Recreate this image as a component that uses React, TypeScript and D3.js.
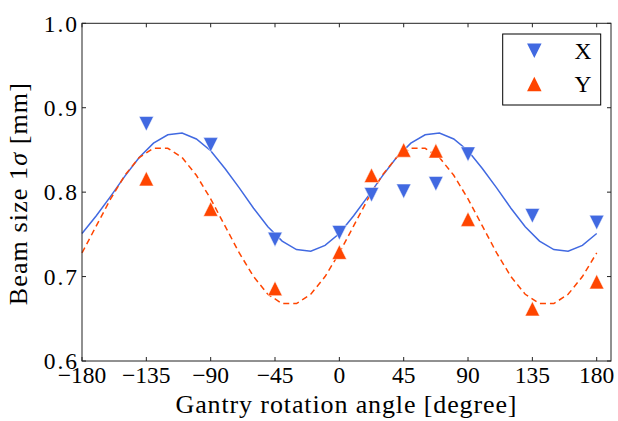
import * as d3 from "d3";

// measured angles (deg) and beam sizes (mm)
const angles = [-135, -90, -45, 0, 22.5, 45, 67.5, 90, 135, 180];
const sigmaX = [0.881, 0.856, 0.744, 0.752, 0.797, 0.801, 0.81, 0.845, 0.772, 0.764];
const sigmaY = [0.816, 0.78, 0.686, 0.729, 0.82, 0.85, 0.849, 0.768, 0.662, 0.694];

const fitAngles = d3.range(-180, 181, 10);
const fitX = [
  0.751, 0.772, 0.795, 0.819, 0.841, 0.858, 0.868, 0.87, 0.863, 0.849, 0.828, 0.805, 0.781,
  0.759, 0.742, 0.732, 0.73, 0.737, 0.751, 0.772, 0.795, 0.819, 0.841, 0.858, 0.868, 0.87,
  0.863, 0.849, 0.828, 0.805, 0.781, 0.759, 0.742, 0.732, 0.73, 0.737, 0.751,
];
const fitY = [
  0.728, 0.76, 0.792, 0.82, 0.841, 0.852, 0.852, 0.841, 0.82, 0.792, 0.76, 0.728, 0.7, 0.679,
  0.668, 0.668, 0.679, 0.7, 0.728, 0.76, 0.792, 0.82, 0.841, 0.852, 0.852, 0.841, 0.82, 0.792,
  0.76, 0.728, 0.7, 0.679, 0.668, 0.668, 0.679, 0.7, 0.728,
];

const xTicks = [-180, -135, -90, -45, 0, 45, 90, 135, 180];
const yTicks = [0.6, 0.7, 0.8, 0.9, 1.0];

const BLUE = "#4169e1";
const RED = "#ff4500";
const FONT = "Liberation Serif, Times New Roman, DejaVu Serif, serif";

const W = 618;
const H = 421;
const left = 82, right = 611, top = 23.3, bottom = 361;

function tri(cx: number, cy: number, s: number, down: boolean) {
  const h = s / 2;
  return down
    ? `M${cx},${cy + h}L${cx - h},${cy - h}L${cx + h},${cy - h}Z`
    : `M${cx},${cy - h}L${cx + h},${cy + h}L${cx - h},${cy + h}Z`;
}

const fmt = (v: number) => (v < 0 ? "\u2212" + Math.abs(v) : String(v));

export default function App() {
  const x = d3.scaleLinear().domain([-180, 190]).range([left, right]);
  const y = d3.scaleLinear().domain([0.6, 1.0]).range([bottom, top]);

  const line = d3
    .line<number>()
    .x((_, i) => x(fitAngles[i]))
    .y((d) => y(d));

  const tickLen = 4;
  const ms = 14.5;

  return (
    <svg
      width={W}
      height={H}
      style={{ position: "absolute", left: 0, top: 0, background: "#fff", fontFamily: FONT }}
    >
      <path d={line(fitX) ?? ""} fill="none" stroke={BLUE} strokeWidth={1.5} />
      <path
        d={line(fitY) ?? ""}
        fill="none"
        stroke={RED}
        strokeWidth={1.5}
        strokeDasharray="6,4"
      />

      {angles.map((a, i) => (
        <path
          key={`x-${a}`}
          d={tri(x(a), y(sigmaX[i]), ms, true)}
          fill={BLUE}
          stroke="#fff"
          strokeWidth={0.5}
        />
      ))}
      {angles.map((a, i) => (
        <path
          key={`y-${a}`}
          d={tri(x(a), y(sigmaY[i]), ms, false)}
          fill={RED}
          stroke="#fff"
          strokeWidth={0.5}
        />
      ))}

      {/* frame */}
      <rect
        x={left}
        y={top}
        width={right - left}
        height={bottom - top}
        fill="none"
        stroke="#222"
        strokeWidth={1}
      />

      {xTicks.map((t) => (
        <g key={`xt-${t}`}>
          <line x1={x(t)} x2={x(t)} y1={bottom} y2={bottom - tickLen} stroke="#222" />
          <line x1={x(t)} x2={x(t)} y1={top} y2={top + tickLen} stroke="#222" />
          <text x={x(t)} y={383} textAnchor="middle" fontSize={23.5} fill="#000">
            {fmt(t)}
          </text>
        </g>
      ))}

      {yTicks.map((t) => (
        <g key={`yt-${t}`}>
          <line x1={left} x2={left + tickLen} y1={y(t)} y2={y(t)} stroke="#222" />
          <line x1={right} x2={right - tickLen} y1={y(t)} y2={y(t)} stroke="#222" />
          <text
            x={79}
            y={y(t)}
            dy="0.35em"
            textAnchor="end"
            fontSize={23.5}
            letterSpacing={2}
            fill="#000"
          >
            {t.toFixed(1)}
          </text>
        </g>
      ))}

      <text
        x={(left + right) / 2 - 0.5}
        y={413}
        textAnchor="middle"
        fontSize={26}
        textLength={341}
        lengthAdjust="spacing"
        fill="#000"
      >
        Gantry rotation angle [degree]
      </text>
      <text
        transform={`translate(27, ${(top + bottom) / 2 + 2}) rotate(-90)`}
        textAnchor="middle"
        fontSize={26}
        textLength={222}
        lengthAdjust="spacing"
        fill="#000"
      >
        Beam size 1<tspan fontStyle="italic">σ</tspan> [mm]
      </text>

      {/* legend */}
      <rect x={502.7} y={34} width={98} height={71} fill="#fff" stroke="#000" strokeWidth={1} />
      <path d={tri(534.3, 50.7, ms, true)} fill={BLUE} />
      <path d={tri(534.3, 84, ms, false)} fill={RED} />
      <text x={583} y={50.7} dy="0.35em" textAnchor="middle" fontSize={23.5} fill="#000">
        X
      </text>
      <text x={583} y={84} dy="0.35em" textAnchor="middle" fontSize={23.5} fill="#000">
        Y
      </text>
    </svg>
  );
}
